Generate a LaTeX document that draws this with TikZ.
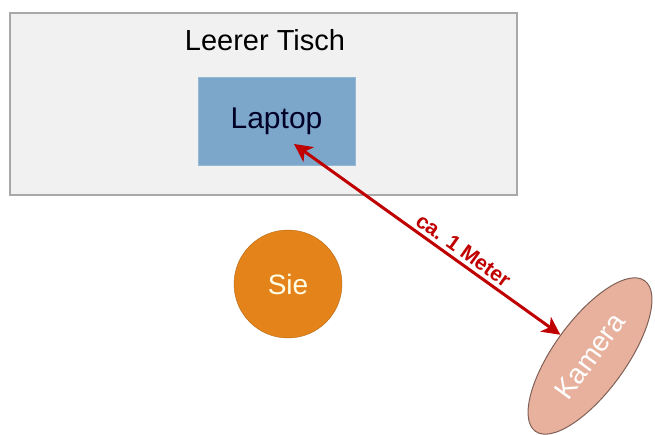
\documentclass[tikz,border=0pt]{standalone}
\usepackage{fontspec}
\setmainfont{Liberation Sans}
\usepackage{tikz}
\usetikzlibrary{shapes.geometric,arrows.meta}

\definecolor{tischgrau}{HTML}{F1F1F1}
\definecolor{randgrau}{HTML}{A8A8A8}
\definecolor{laptopblau}{HTML}{7DA6CB}
\definecolor{sieorange}{HTML}{E5831B}
\definecolor{kamerarosa}{HTML}{E7B19E}
\definecolor{pfeilrot}{HTML}{C00000}

\tikzset{
  tisch/.style={draw=randgrau, fill=tischgrau, line width=1.2pt},
  laptopbox/.style={fill=laptopblau, draw=laptopblau!80!white, minimum width=157pt, minimum height=88pt,
    font=\fontsize{30}{34}\selectfont, text=black!85!blue},
  person/.style={circle, fill=sieorange, draw=sieorange!80!black, minimum size=108pt,
    font=\fontsize{28}{32}\selectfont, text=white!90!yellow},
  kamerabox/.style={ellipse, fill=kamerarosa, draw=kamerarosa!55!black, line width=1pt,
    minimum width=186pt, minimum height=72pt, font=\fontsize{28}{32}\selectfont, text=white},
  abstand/.style={{Stealth[length=18pt,width=18pt,inset=5pt]}-{Stealth[length=18pt,width=18pt,inset=5pt]}, draw=pfeilrot, line width=3pt}
}

\begin{document}
\begin{tikzpicture}[x=1pt,y=1pt]
  \useasboundingbox (0,0) rectangle (655,-435);
  \draw[tisch] (10,-13) rectangle (517,-195);
  \node[font=\fontsize{29}{33}\selectfont] (titel) at (265,-40) {Leerer Tisch};
  \node[laptopbox] (laptop) at (276.5,-121) {Laptop};
  \node[person] (sie) at (288,-284) {Sie};
  \node[kamerabox, rotate=54] (kamera) at (590,-356) {Kamera};
  \coordinate (spitze) at (294,-144);
  \draw[abstand] (spitze) -- (kamera)
    node[pos=0.61, sloped, above=0pt, text=pfeilrot, font=\bfseries\fontsize{21}{24}\selectfont] (label) {ca. 1 Meter};
\end{tikzpicture}
\end{document}
